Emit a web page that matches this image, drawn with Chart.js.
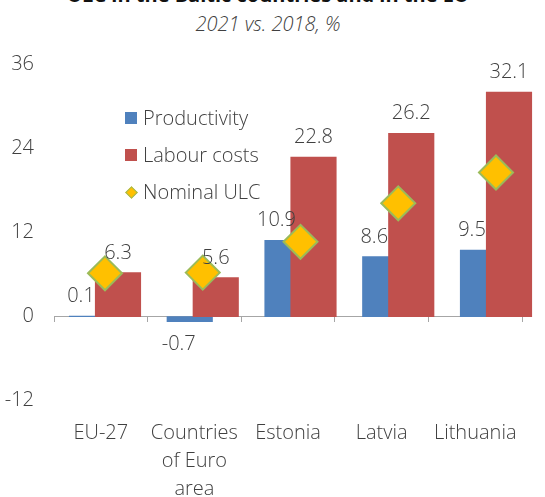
<!DOCTYPE html>
<html>
<head>
<meta charset="utf-8">
<script src="https://cdn.jsdelivr.net/npm/chart.js@4.4.1/dist/chart.umd.min.js"></script>
<style>
  html, body { margin: 0; padding: 0; background: #fff; }
  #wrap { position: relative; width: 545px; height: 497px; overflow: hidden; font-family: "Open Sans", sans-serif; }
  #wrap canvas { position: absolute; left: 0; top: 0; }
  .title, .subtitle { position: absolute; left: 0; width: 536px; text-align: center; line-height: 20px; white-space: nowrap; }
  .title { top: -15px; font-size: 20px; font-weight: 700; color: #111; }
  .subtitle { top: 14px; font-size: 20px; font-style: italic; font-weight: 300; color: #404040; }
  .legend { position: absolute; left: 125px; top: 104px; font-size: 20px; font-weight: 300; color: #404040; }
  .legend div { position: relative; height: 37px; line-height: 28px; padding-left: 18px; white-space: nowrap; }
  .legend .box { position: absolute; left: 0; top: 8px; width: 12px; height: 12px; padding: 0; }
  .legend .dia { position: absolute; left: 2px; top: 10px; width: 7px; height: 7px; padding: 0;
                 background: #FFC000; border: 1.5px solid #9BBB59; transform: rotate(45deg); }
</style>
</head>
<body>
<div id="wrap">
  <div class="title">ULC in the Baltic countries and in the EU</div>
  <div class="subtitle">2021 vs. 2018, %</div>
  <canvas id="ulcChart" width="545" height="497"></canvas>
  <div class="legend">
    <div><span class="box" style="background:#4F81BD"></span>Productivity</div>
    <div><span class="box" style="background:#C0504D"></span>Labour costs</div>
    <div><span class="dia"></span>Nominal ULC</div>
  </div>
</div>
<script>
// categories and series, % change 2021 vs. 2018
const categories = [['EU-27'], ['Countries', 'of Euro', 'area'], ['Estonia'], ['Latvia'], ['Lithuania']];
const productivity = [0.1, -0.7, 10.9, 8.6, 9.5];
const labourCosts = [6.3, 5.6, 22.8, 26.2, 32.1];
const nominalUlc = [6.2, 6.3, 10.7, 16.2, 20.6];
const yTicks = [-12, 0, 12, 24, 36];

const textColor = '#404040';
const axisColor = '#A6A6A6';
const baseFont = { family: '"Open Sans", sans-serif', size: 20, weight: '300', lineHeight: 1.4 };

// bars and markers use hidden linear axes (index 0..4); the two bar axes are
// shifted a little so the red bar overlaps the blue one
const toPoints = arr => arr.map((v, i) => ({ x: i, y: v }));
const span = 4.7877;
const hiddenAxis = min => ({
    type: 'linear', display: false, offset: false,
    min: min, max: min + span,
    ticks: { stepSize: 1, includeBounds: false }
});

// value labels above / below the bars
const barLabels = {
    id: 'barLabels',
    afterDatasetsDraw(chart) {
        const ctx = chart.ctx;
        ctx.save();
        ctx.font = '300 20px "Open Sans", sans-serif';
        ctx.fillStyle = textColor;
        ctx.textAlign = 'center';
        chart.data.datasets.forEach((ds, di) => {
            if (ds.type === 'line') return;
            const dx = ds.label === 'Productivity' ? -11 : 0;
            chart.getDatasetMeta(di).data.forEach((bar, i) => {
                const v = ds.data[i].y;
                if (v >= 0) {
                    ctx.textBaseline = 'alphabetic';
                    ctx.fillText(v.toFixed(1), bar.x + dx, bar.y - 14);
                } else {
                    ctx.textBaseline = 'top';
                    ctx.fillText(v.toFixed(1), bar.x + dx, bar.y + 13);
                }
            });
        });
        ctx.restore();
    }
};

new Chart(document.getElementById('ulcChart'), {
    type: 'bar',
    data: {
        labels: categories,
        datasets: [
            {
                label: 'Productivity',
                data: toPoints(productivity),
                xAxisID: 'xBlue',
                backgroundColor: '#4F81BD',
                order: 2,
                clip: false
            },
            {
                label: 'Labour costs',
                data: toPoints(labourCosts),
                xAxisID: 'xRed',
                backgroundColor: '#C0504D',
                order: 1,
                clip: false
            },
            {
                type: 'line',
                label: 'Nominal ULC',
                data: toPoints(nominalUlc),
                xAxisID: 'xMid',
                showLine: false,
                pointStyle: 'rectRot',
                pointRadius: 17,
                pointHoverRadius: 17,
                pointBackgroundColor: '#FFC000',
                pointBorderColor: '#9BBB59',
                pointBorderWidth: 2,
                order: 0,
                clip: false
            }
        ]
    },
    options: {
        responsive: false,
        animation: false,
        devicePixelRatio: 1,
        layout: { padding: { top: 64.7, right: 23, bottom: 0, left: 0 } },
        datasets: {
            bar: { grouped: false, categoryPercentage: 1, barPercentage: 1, maxBarThickness: 45.5 }
        },
        plugins: {
            legend: { display: false },
            tooltip: { enabled: false }
        },
        scales: {
            x: {
                type: 'category',
                position: 'bottom',
                offset: true,
                grid: { display: false, drawTicks: false },
                border: { display: false },
                ticks: { color: textColor, font: baseFont, padding: 19, maxRotation: 0, autoSkip: false },
                afterFit: s => { s.height = 96.3; }
            },
            xz: {
                type: 'category',
                position: { y: 0 },
                offset: true,
                grid: { display: true, offset: true, drawOnChartArea: false, drawTicks: true, tickLength: 5, color: axisColor },
                border: { display: true, color: axisColor, width: 1 },
                ticks: { display: false }
            },
            xMid: hiddenAxis(-0.5217),
            xBlue: hiddenAxis(-0.5217 + 0.133),
            xRed: hiddenAxis(-0.5217 - 0.133),
            y: {
                min: -12,
                max: 36,
                afterBuildTicks: s => { s.ticks = yTicks.map(v => ({ value: v })); },
                grid: { display: false, drawTicks: false },
                border: { display: false },
                ticks: { color: textColor, font: baseFont, padding: 20 },
                afterFit: s => { s.width = 54; }
            }
        }
    },
    plugins: [barLabels]
});
</script>
</body>
</html>
